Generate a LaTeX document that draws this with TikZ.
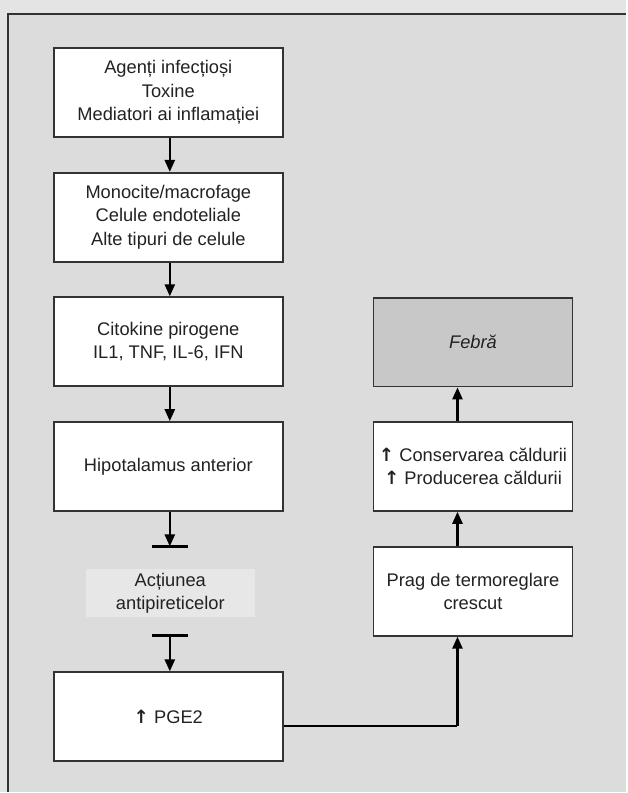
\documentclass[tikz,border=0pt]{standalone}
\usepackage{fontspec}
\setmainfont{Liberation Sans}
\newfontfamily\arrowfont{DejaVu Sans}
\usetikzlibrary{arrows.meta,positioning}
\definecolor{bg}{HTML}{DCDCDC}
\definecolor{bgtop}{HTML}{E4E4E4}
\definecolor{labelbg}{HTML}{E7E7E7}
\definecolor{fever}{HTML}{C8C8C8}
\definecolor{edge}{HTML}{333333}
\definecolor{ink}{HTML}{222222}
\newcommand{\upmark}{{\arrowfont\bfseries ↑}}
\tikzset{
  x=1pt, y=-1pt,
  txt/.style={font=\fontsize{18.3}{23.5}\selectfont},
  stage/.style={draw=edge, line width=1.7pt, fill=white, minimum width=229pt,
    minimum height=89pt, align=center, inner sep=0pt, text=ink, txt},
  rstage/.style={stage, minimum width=199pt},
  flow/.style={line width=2.4pt, -{Triangle[length=12pt,width=10pt]}},
  link/.style={line width=2.4pt},
  blockbar/.style={line width=2.6pt},
}
\begin{document}
\begin{tikzpicture}
% page and frame
\fill[bgtop] (0,0) rectangle (627,793);
\fill[bg] (8,14) rectangle (627,793);
\draw[edge, line width=1.8pt] (8,793) -- (8,14) -- (627,14);
\useasboundingbox (0,0) rectangle (627,793);

% left column
\node[stage] (src) at (168.5,92.5) {Agenți infecțioși\\Toxine\\Mediatori ai inflamației};
\node[stage] (cells) at (168.5,217.5) {Monocite/macrofage\\Celule endoteliale\\Alte tipuri de celule};
\node[stage] (cyto) at (168.5,342) {Citokine pirogene\\IL1, TNF, IL-6, IFN};
\node[stage] (hypo) at (168.5,467) {Hipotalamus anterior};
\node[fill=labelbg, minimum width=169pt, minimum height=48pt, align=center,
  inner sep=0pt, text=ink, txt]
  (anti) at (170.5,594) {Acțiunea\\antipireticelor};
\node[stage] (pge) at (168.5,717.5) {\upmark\ PGE2};

% right column
\node[rstage, fill=fever, font=\fontsize{18.3}{23.5}\selectfont\itshape] (fever) at (473.5,342.5) {Febră};
\node[rstage] (heat) at (473.5,467) {\upmark\ Conservarea căldurii\\\upmark\ Producerea căldurii};
\node[rstage] (set) at (473.5,592) {Prag de termoreglare\\crescut};

% blocking bars around the antipyretic action
\coordinate (b1) at (170,547);
\coordinate (b2) at (170,636);
\draw[blockbar] ([xshift=-18pt]b1) -- ([xshift=18pt]b1);
\draw[blockbar] ([xshift=-18pt]b2) -- ([xshift=18pt]b2);

% connectors
\draw[flow] (src.south -| 170,0) -- (cells.north -| 170,0);
\draw[flow] (cells.south -| 170,0) -- (cyto.north -| 170,0);
\draw[flow] (cyto.south -| 170,0) -- (hypo.north -| 170,0);
\draw[flow] (hypo.south -| 170,0) -- (b1);
\draw[flow] (b2) -- (pge.north -| 170,0);
\coordinate (turn) at (458,727);
\draw[link] (pge.east |- turn) -- (turn);
\draw[flow] (turn) -- (set.south -| turn);
\draw[flow] (set.north -| turn) -- (heat.south -| turn);
\draw[flow] (heat.north -| turn) -- (fever.south -| turn);
\end{tikzpicture}
\end{document}
